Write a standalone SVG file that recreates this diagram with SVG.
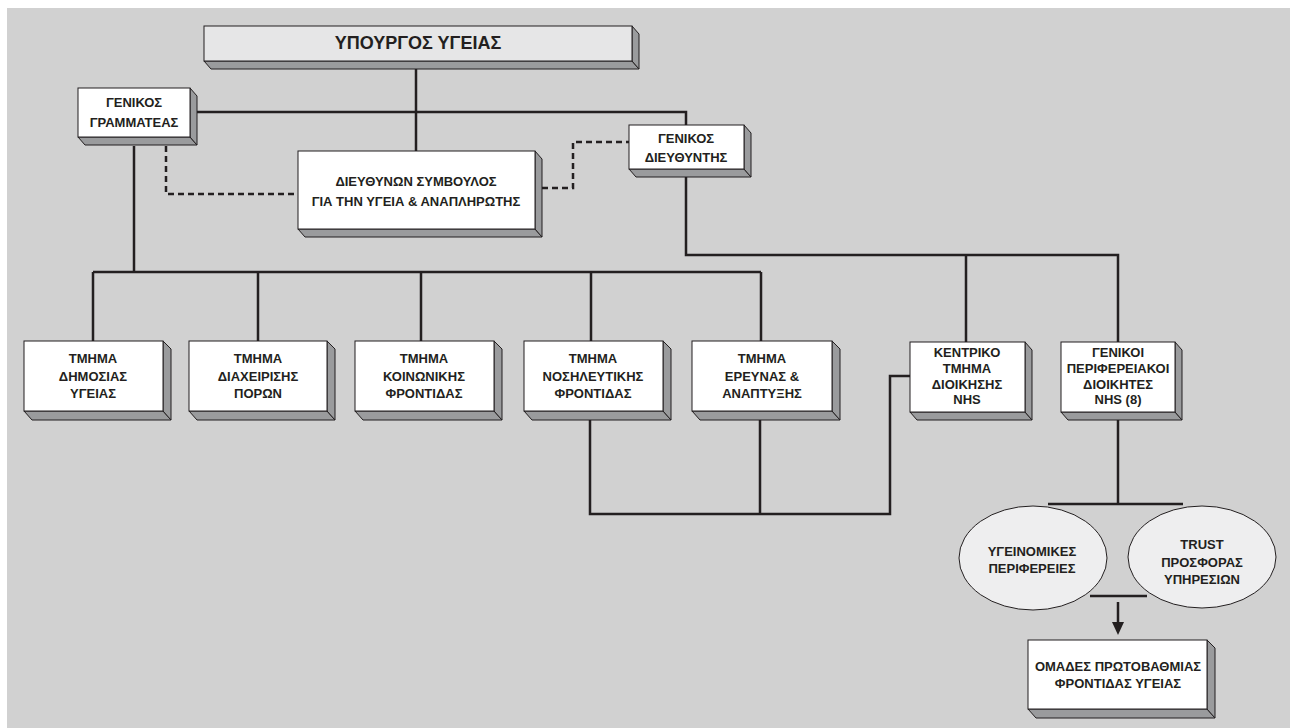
<svg xmlns="http://www.w3.org/2000/svg" width="1290" height="728" viewBox="0 0 1290 728">
  <style>
    .front { fill: #ffffff; stroke: #231f20; stroke-width: 1; }
    .title { fill: #e6e6e7; stroke: #231f20; stroke-width: 1; }
    .side { fill: #9a9b9d; stroke: #231f20; stroke-width: 1; stroke-linejoin: round; }
    .oval { fill: #eeeeef; stroke: #231f20; stroke-width: 1; }
    .wire { fill: none; stroke: #231f20; stroke-width: 2.5; }
    .dash { fill: none; stroke: #231f20; stroke-width: 2.5; stroke-dasharray: 6 4; }
    text { font-family: "Liberation Sans", Arial, sans-serif; font-weight: bold; font-size: 13px; fill: #231f20; text-anchor: middle; }
    text.big { font-size: 18px; }
  </style>

  <!-- page background -->
  <rect x="0" y="0" width="1290" height="728" fill="#ffffff"/>
  <rect x="7" y="8" width="1283" height="720" fill="#d1d1d1"/>

  <!-- connectors -->
  <g id="connectors">
    <path class="wire" d="M416 69 V151"/>
    <path class="wire" d="M190 112 H686 V125"/>
    <path class="wire" d="M134 146 V272"/>
    <path class="wire" d="M93 272 H761"/>
    <path class="wire" d="M93 272 V341 M258 272 V341 M421 272 V341 M591 272 V341 M761 272 V341"/>
    <path class="wire" d="M686 177 V255 H1118 V342 M966 255 V342"/>
    <path class="wire" d="M590 419 V514 H890 V376 H910 M760 419 V514"/>
    <path class="wire" d="M1118 419 V504"/>
    <path class="wire" stroke-width="3" d="M1048 504 H1183"/>
    <path class="dash" d="M166 146 V194 H298"/>
    <path class="dash" d="M542 188 H573 V142 H629"/>
  </g>

  <!-- minister -->
  <g id="minister">
    <polygon class="side" points="204,61 632,61 639,69 211,69"/>
    <polygon class="side" points="632,26 639,34 639,69 632,61"/>
    <rect class="title" x="204" y="26" width="428" height="35"/>
    <text class="big" x="418" y="49">ΥΠΟΥΡΓΟΣ ΥΓΕΙΑΣ</text>
  </g>

  <!-- general secretary -->
  <g id="general-secretary">
    <polygon class="side" points="78,137 190,137 197,145 85,145"/>
    <polygon class="side" points="190,88 197,96 197,145 190,137"/>
    <rect class="front" x="78" y="88" width="112" height="49"/>
    <text x="134" y="107">ΓΕΝΙΚΟΣ</text>
    <text x="134" y="127">ΓΡΑΜΜΑΤΕΑΣ</text>
  </g>

  <!-- chief executive -->
  <g id="chief-executive">
    <polygon class="side" points="298,229 535,229 542,237 305,237"/>
    <polygon class="side" points="535,151 542,159 542,237 535,229"/>
    <rect class="front" x="298" y="151" width="237" height="78"/>
    <text x="416" y="186">ΔΙΕΥΘΥΝΩΝ ΣΥΜΒΟΥΛΟΣ</text>
    <text x="416" y="206">ΓΙΑ ΤΗΝ ΥΓΕΙΑ &amp; ΑΝΑΠΛΗΡΩΤΗΣ</text>
  </g>

  <!-- general director -->
  <g id="general-director">
    <polygon class="side" points="629,169 744,169 751,177 636,177"/>
    <polygon class="side" points="744,125 751,133 751,177 744,169"/>
    <rect class="front" x="629" y="125" width="115" height="44"/>
    <text x="686" y="143">ΓΕΝΙΚΟΣ</text>
    <text x="686" y="162">ΔΙΕΥΘΥΝΤΗΣ</text>
  </g>

  <!-- departments -->
  <g id="dept-public-health">
    <polygon class="side" points="24,411 163,411 171,420 32,420"/>
    <polygon class="side" points="163,341 171,349 171,420 163,411"/>
    <rect class="front" x="24" y="341" width="139" height="70"/>
    <text x="93" y="363">ΤΜΗΜΑ</text>
    <text x="93" y="381">ΔΗΜΟΣΙΑΣ</text>
    <text x="93" y="398">ΥΓΕΙΑΣ</text>
  </g>

  <g id="dept-resources">
    <polygon class="side" points="189,411 327,411 335,420 197,420"/>
    <polygon class="side" points="327,341 335,349 335,420 327,411"/>
    <rect class="front" x="189" y="341" width="138" height="70"/>
    <text x="258" y="363">ΤΜΗΜΑ</text>
    <text x="258" y="381">ΔΙΑΧΕΙΡΙΣΗΣ</text>
    <text x="258" y="398">ΠΟΡΩΝ</text>
  </g>

  <g id="dept-social-care">
    <polygon class="side" points="355,411 494,411 502,420 363,420"/>
    <polygon class="side" points="494,341 502,349 502,420 494,411"/>
    <rect class="front" x="355" y="341" width="139" height="70"/>
    <text x="424" y="363">ΤΜΗΜΑ</text>
    <text x="424" y="381">ΚΟΙΝΩΝΙΚΗΣ</text>
    <text x="424" y="398">ΦΡΟΝΤΙΔΑΣ</text>
  </g>

  <g id="dept-nursing">
    <polygon class="side" points="524,411 663,411 671,420 532,420"/>
    <polygon class="side" points="663,341 671,349 671,420 663,411"/>
    <rect class="front" x="524" y="341" width="139" height="70"/>
    <text x="593" y="363">ΤΜΗΜΑ</text>
    <text x="593" y="381">ΝΟΣΗΛΕΥΤΙΚΗΣ</text>
    <text x="593" y="398">ΦΡΟΝΤΙΔΑΣ</text>
  </g>

  <g id="dept-research">
    <polygon class="side" points="692,411 832,411 840,420 700,420"/>
    <polygon class="side" points="832,341 840,349 840,420 832,411"/>
    <rect class="front" x="692" y="341" width="140" height="70"/>
    <text x="762" y="363">ΤΜΗΜΑ</text>
    <text x="762" y="381">ΕΡΕΥΝΑΣ &amp;</text>
    <text x="762" y="398">ΑΝΑΠΤΥΞΗΣ</text>
  </g>

  <g id="nhs-central">
    <polygon class="side" points="910,412 1025,412 1032,420 917,420"/>
    <polygon class="side" points="1025,342 1032,350 1032,420 1025,412"/>
    <rect class="front" x="910" y="342" width="115" height="70"/>
    <text x="967" y="357">ΚΕΝΤΡΙΚΟ</text>
    <text x="967" y="373">ΤΜΗΜΑ</text>
    <text x="967" y="389">ΔΙΟΙΚΗΣΗΣ</text>
    <text x="967" y="404">NHS</text>
  </g>

  <g id="nhs-regional">
    <polygon class="side" points="1061,412 1175,412 1182,420 1068,420"/>
    <polygon class="side" points="1175,342 1182,350 1182,420 1175,412"/>
    <rect class="front" x="1061" y="342" width="114" height="70"/>
    <text x="1118" y="357">ΓΕΝΙΚΟΙ</text>
    <text x="1118" y="373">ΠΕΡΙΦΕΡΕΙΑΚΟΙ</text>
    <text x="1118" y="389">ΔΙΟΙΚΗΤΕΣ</text>
    <text x="1118" y="404">NHS (8)</text>
  </g>

  <!-- regional bodies -->
  <g id="health-regions">
    <ellipse class="oval" cx="1033" cy="558" rx="74" ry="52"/>
    <text x="1032" y="556">ΥΓΕΙΝΟΜΙΚΕΣ</text>
    <text x="1032" y="573">ΠΕΡΙΦΕΡΕΙΕΣ</text>
  </g>

  <g id="provider-trusts">
    <ellipse class="oval" cx="1202" cy="557" rx="74" ry="51"/>
    <text x="1202" y="549">TRUST</text>
    <text x="1202" y="567">ΠΡΟΣΦΟΡΑΣ</text>
    <text x="1202" y="584">ΥΠΗΡΕΣΙΩΝ</text>
  </g>

  <!-- join under the ovals and arrow down -->
  <g id="oval-join">
    <path class="wire" stroke-width="3" d="M1090 596 H1147"/>
    <path class="wire" d="M1118 602 V623"/>
    <polygon points="1112,622 1124,622 1118,635" fill="#231f20"/>
  </g>

  <g id="primary-care">
    <polygon class="side" points="1028,709 1207,709 1215,718 1036,718"/>
    <polygon class="side" points="1207,640 1215,648 1215,718 1207,709"/>
    <rect class="front" x="1028" y="640" width="179" height="69"/>
    <text x="1118" y="671">ΟΜΑΔΕΣ ΠΡΩΤΟΒΑΘΜΙΑΣ</text>
    <text x="1118" y="688">ΦΡΟΝΤΙΔΑΣ ΥΓΕΙΑΣ</text>
  </g>
</svg>
